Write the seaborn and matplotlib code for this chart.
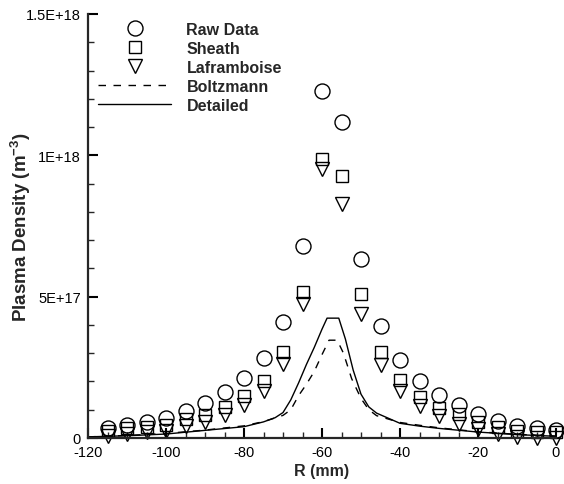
import matplotlib
matplotlib.use("Agg")
import matplotlib.pyplot as plt
import seaborn as sns
import numpy as np
from matplotlib.ticker import MultipleLocator, FixedLocator, FixedFormatter

# ---- data (density in units of 1E18 m^-3) ----
r_mm = [-115, -110, -105, -100, -95, -90, -85, -80, -75, -70, -65, -60,
        -55, -50, -45, -40, -35, -30, -25, -20, -15, -10, -5, 0]
raw_data = [0.034, 0.046, 0.058, 0.071, 0.097, 0.125, 0.161, 0.211, 0.282, 0.411, 0.680, 1.227,
            1.119, 0.635, 0.395, 0.277, 0.203, 0.152, 0.117, 0.085, 0.061, 0.043, 0.034, 0.028]
sheath = [0.024, 0.034, 0.038, 0.046, 0.067, 0.083, 0.111, 0.147, 0.203, 0.303, 0.518, 0.986,
          0.927, 0.509, 0.303, 0.205, 0.144, 0.105, 0.085, 0.055, 0.038, 0.026, 0.022, 0.020]
laframboise = [0.008, 0.014, 0.020, 0.026, 0.043, 0.058, 0.081, 0.117, 0.167, 0.261, 0.473, 0.950,
               0.827, 0.438, 0.258, 0.167, 0.114, 0.079, 0.049, 0.032, 0.014, 0.004, 0.0, 0.0]

det_r = [-120, -110, -100, -90, -80, -75, -72, -70, -68, -66, -64, -62, -60, -58.7, -55.7,
         -54, -52, -50, -48, -46, -40, -35, -30, -20, -10, 0]
detailed = [0.004, 0.008, 0.014, 0.027, 0.040, 0.057, 0.072, 0.090, 0.135, 0.195, 0.260, 0.320,
            0.385, 0.424, 0.424, 0.350, 0.240, 0.155, 0.110, 0.088, 0.052, 0.042, 0.034, 0.021, 0.012, 0.006]

bol_r = [-120, -110, -100, -90, -80, -75, -70, -68, -66, -64, -62, -60, -58.2, -56.1,
         -54.5, -52.4, -50, -48, -46, -40, -35, -30, -20, -10, 0]
boltzmann = [0.004, 0.009, 0.016, 0.028, 0.043, 0.058, 0.080, 0.100, 0.150, 0.190, 0.235, 0.295,
             0.346, 0.346, 0.300, 0.210, 0.140, 0.100, 0.079, 0.055, 0.045, 0.036, 0.022, 0.013, 0.007]

y_ticks = [0, 0.5, 1.0, 1.5]
y_tick_labels = ["0", "5E+17", "1E+18", "1.5E+18"]
x_ticks = [-120, -100, -80, -60, -40, -20, 0]

sns.set_style("ticks")
plt.rcParams['font.family'] = ['Liberation Sans', 'DejaVu Sans']
plt.rcParams['axes.unicode_minus'] = False
plt.rcParams['mathtext.fontset'] = 'custom'
plt.rcParams['mathtext.rm'] = 'Liberation Sans:bold'
plt.rcParams['mathtext.bf'] = 'Liberation Sans:bold'
plt.rcParams['mathtext.default'] = 'bf'

fig = plt.figure(figsize=(5.64, 4.85), dpi=100)
ax = fig.add_axes([88/564, 1-439/485, (556-88)/564, (439-15)/485])

mk = dict(linestyle='', color='black', markerfacecolor='none', markeredgecolor='black',
          markeredgewidth=1.0, clip_on=False, errorbar=None)
sns.lineplot(x=r_mm, y=raw_data, marker='o', markersize=10.8, label='Raw Data', ax=ax, **mk)
sns.lineplot(x=r_mm, y=sheath, marker='s', markersize=8.4, label='Sheath', ax=ax, **mk)
sns.lineplot(x=r_mm, y=laframboise, marker='v', markersize=9.5, label='Laframboise', ax=ax, **mk)
sns.lineplot(x=bol_r, y=boltzmann, color='black', linewidth=1.0, linestyle=(0, (5.4, 5.4)),
             label='Boltzmann', ax=ax, errorbar=None)
sns.lineplot(x=det_r, y=detailed, color='black', linewidth=1.0, linestyle='-',
             label='Detailed', ax=ax, errorbar=None)

ax.set_xlim(-120, 0)
ax.set_ylim(0, 1.5)
ax.xaxis.set_major_locator(FixedLocator(x_ticks))
ax.xaxis.set_minor_locator(MultipleLocator(5))
ax.yaxis.set_major_locator(FixedLocator(y_ticks))
ax.yaxis.set_major_formatter(FixedFormatter(y_tick_labels))
ax.yaxis.set_minor_locator(MultipleLocator(0.1))

for s in ['top', 'right']:
    ax.spines[s].set_visible(False)
for s in ['left', 'bottom']:
    ax.spines[s].set_linewidth(1.6)

ax.tick_params(which='major', direction='in', length=7, width=1.5, labelsize=10.5, pad=5, colors='black')
ax.tick_params(which='minor', direction='in', length=4, width=1.0)

ax.set_xlabel('R (mm)', fontsize=11.5, fontweight='bold', labelpad=3)
ax.set_ylabel(r'Plasma Density (m$^{-3}$)', fontsize=13.5, fontweight='bold')
ax.yaxis.set_label_coords((33 - 88) / 468, 0.5)

leg = ax.legend(loc='upper left', bbox_to_anchor=(98/564, 1-23/485), bbox_transform=fig.transFigure,
                frameon=False, borderpad=0, borderaxespad=0, handlelength=4.6, handletextpad=0.94,
                labelspacing=0.25, numpoints=1, prop={'weight': 'bold', 'size': 11.5})

fig.savefig('out.png', dpi=100)
